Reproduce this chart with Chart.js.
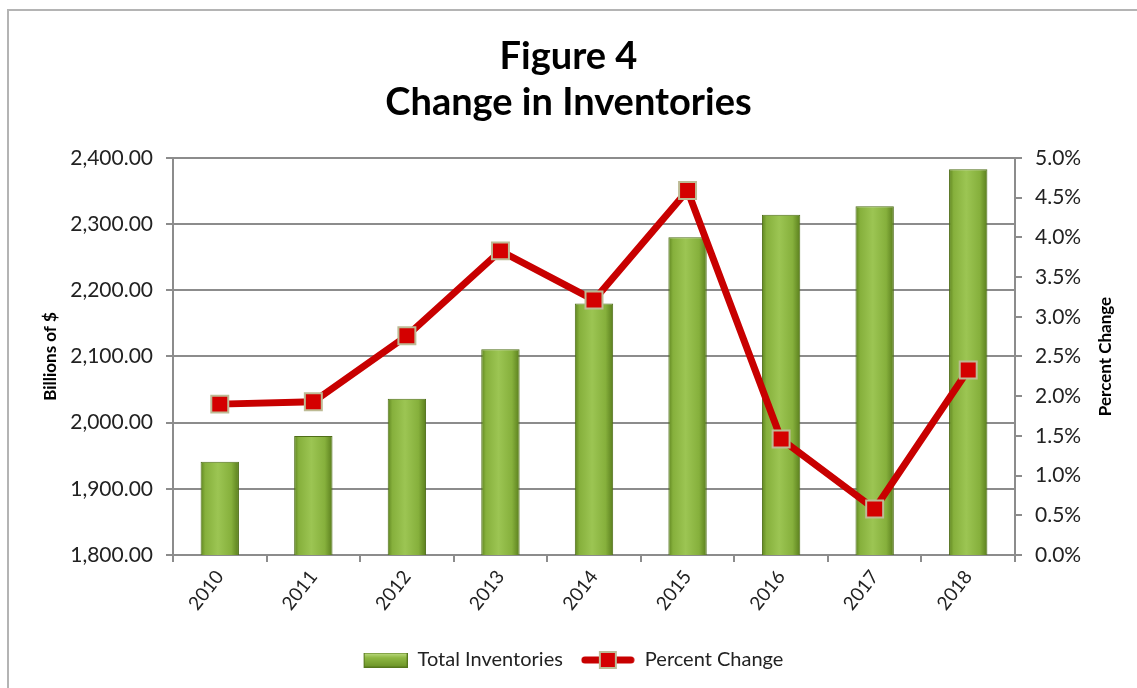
<!DOCTYPE html>
<html lang="en">
<head>
    <meta charset="UTF-8">
    <meta name="viewport" content="width=device-width, initial-scale=1.0">
    <title>Figure 4 - Change in Inventories</title>
    <style>
        html, body { margin: 0; padding: 0; background: #fff; overflow: hidden; }
        .main { width: 1137px; height: 688px; position: relative; }
    </style>
</head>
<body>
    <div class="main">
        <canvas id="myChart" width="1137" height="688"></canvas>
    </div>

    <script src="https://cdn.jsdelivr.net/npm/chart.js"></script>

<script>
    // data
    const years = ['2010', '2011', '2012', '2013', '2014', '2015', '2016', '2017', '2018'];
    const totalInventories = [1941, 1980, 2036, 2111, 2180, 2280, 2314, 2327, 2383];
    const percentChange = [1.90, 1.93, 2.76, 3.83, 3.21, 4.59, 1.46, 0.58, 2.33];
    const billionsTicks = [1800, 1900, 2000, 2100, 2200, 2300, 2400];
    const percentTicks = [0, 0.5, 1.0, 1.5, 2.0, 2.5, 3.0, 3.5, 4.0, 4.5, 5.0];

    const font = 'Lato, "Open Sans", sans-serif';
    Chart.defaults.font.family = font;
    Chart.defaults.color = '#333';

    const BAR_PCT = 0.41;

    // shaded green column, darker at the edges
    let barFill = (c) => {
        const chart = c.chart;
        const xs = chart.scales.x;
        if (!xs || c.dataIndex === undefined) return '#8cb43f';
        const cx = xs.getPixelForValue(c.dataIndex);
        const half = xs.width / years.length * BAR_PCT / 2;
        const g = chart.ctx.createLinearGradient(cx - half, 0, cx + half, 0);
        g.addColorStop(0, '#5f8520');
        g.addColorStop(0.12, '#86b03c');
        g.addColorStop(0.45, '#9cc553');
        g.addColorStop(0.8, '#86b03c');
        g.addColorStop(1, '#5a7e1d');
        return g;
    };

    // legend symbols (both 54px wide so they share one legend box width)
    let makeBarSwatch = () => {
        const cv = document.createElement('canvas');
        cv.width = 54; cv.height = 15;
        const x = cv.getContext('2d');
        const g = x.createLinearGradient(0, 0, 0, 15);
        g.addColorStop(0, '#c4e08a');
        g.addColorStop(0.35, '#8fb843');
        g.addColorStop(1, '#6a9127');
        x.fillStyle = g;
        x.fillRect(10, 0, 44, 15);
        x.strokeStyle = '#55771c';
        x.lineWidth = 1;
        x.strokeRect(10.5, 0.5, 43, 14);
        return cv;
    };
    let makeLineSwatch = () => {
        const cv = document.createElement('canvas');
        cv.width = 54; cv.height = 20;
        const x = cv.getContext('2d');
        x.strokeStyle = '#c80000';
        x.lineWidth = 7;
        x.lineCap = 'round';
        x.beginPath(); x.moveTo(4, 10); x.lineTo(50, 10); x.stroke();
        x.fillStyle = '#d40000';
        x.fillRect(19, 2, 16, 16);
        x.strokeStyle = '#bdbb95';
        x.lineWidth = 2;
        x.strokeRect(19, 2, 16, 16);
        return cv;
    };
    const barSwatch = makeBarSwatch();
    const lineSwatch = makeLineSwatch();

    // outer frame of the figure
    const frame = {
        id: 'frame',
        beforeDraw(chart) {
            const ctx = chart.ctx;
            ctx.save();
            ctx.strokeStyle = '#b4b4b4';
            ctx.lineWidth = 2;
            ctx.strokeRect(8, 10, 1200, 1000);
            ctx.restore();
        }
    };

    // right axis title reads bottom-to-top like the left one
    const sideTitle = {
        id: 'sideTitle',
        afterDraw(chart) {
            const ctx = chart.ctx;
            const a = chart.chartArea;
            ctx.save();
            ctx.translate(chart.scales.y1.right - 31, (a.top + a.bottom) / 2);
            ctx.rotate(-Math.PI / 2);
            ctx.font = 'bold 17px ' + font;
            ctx.fillStyle = '#000';
            ctx.textAlign = 'center';
            ctx.textBaseline = 'middle';
            ctx.fillText('Percent Change', 0, 0);
            ctx.restore();
        }
    };

    const ctx = document.getElementById('myChart');

    new Chart(ctx, {
        data: {
            labels: years,
            datasets: [{
                type: 'bar',
                label: 'Total Inventories',
                data: totalInventories,
                yAxisID: 'y',
                order: 1,
                backgroundColor: barFill,
                borderColor: '#4f6e18',
                borderWidth: 1,
                barPercentage: BAR_PCT,
                categoryPercentage: 1
            }, {
                type: 'line',
                label: 'Percent Change',
                data: percentChange,
                yAxisID: 'y1',
                order: 0,
                borderColor: '#c80000',
                borderWidth: 7,
                tension: 0,
                pointStyle: 'rect',
                pointRadius: 12,
                pointBackgroundColor: '#d40000',
                pointBorderColor: '#bdbb95',
                pointBorderWidth: 2
            }]
        },
        options: {
            responsive: false,
            animation: false,
            devicePixelRatio: 1,
            layout: { padding: { top: 0, left: 0, right: 0, bottom: 8 } },
            plugins: {
                tooltip: { enabled: false },
                title: {
                    display: true,
                    text: ['Figure 4', 'Change in Inventories'],
                    color: '#000',
                    font: { size: 38, weight: 'bold', lineHeight: 1.21 },
                    padding: { top: 34, bottom: 32 }
                },
                legend: {
                    position: 'bottom',
                    labels: {
                        usePointStyle: true,
                        pointStyleWidth: 54,
                        padding: 18,
                        color: '#222',
                        font: { size: 20 },
                        generateLabels: () => [
                            { text: 'Total Inventories', pointStyle: barSwatch, datasetIndex: 0, lineWidth: 0, fontColor: '#222' },
                            { text: 'Percent Change', pointStyle: lineSwatch, datasetIndex: 1, lineWidth: 0, fontColor: '#222' }
                        ]
                    }
                }
            },
            scales: {
                x: {
                    offset: true,
                    afterFit: (s) => { s.height = 77; },
                    grid: {
                        offset: true,
                        drawOnChartArea: false,
                        color: '#8c8c8c',
                        lineWidth: 2,
                        tickLength: 7
                    },
                    border: { color: '#8c8c8c', width: 2 },
                    ticks: {
                        minRotation: 52,
                        maxRotation: 52,
                        padding: 4,
                        color: '#222',
                        font: { size: 19 }
                    }
                },
                y: {
                    position: 'left',
                    min: 1800,
                    max: 2400,
                    afterFit: (s) => { s.width = 173; },
                    afterBuildTicks: (axis) => { axis.ticks = billionsTicks.map(v => ({ value: v })); },
                    grid: {
                        color: '#8c8c8c',
                        lineWidth: 2,
                        tickLength: 7
                    },
                    border: { color: '#8c8c8c', width: 2 },
                    ticks: {
                        padding: 13,
                        color: '#222',
                        font: { size: 21 },
                        callback: (v) => Number(v).toLocaleString('en-US', { minimumFractionDigits: 2, maximumFractionDigits: 2 })
                    },
                    title: {
                        display: true,
                        text: 'Billions of $',
                        color: '#000',
                        font: { size: 17, weight: 'bold' },
                        padding: { top: 40, bottom: 0 }
                    }
                },
                y1: {
                    position: 'right',
                    min: 0,
                    max: 5,
                    afterFit: (s) => { s.width = 122; },
                    afterBuildTicks: (axis) => { axis.ticks = percentTicks.map(v => ({ value: v })); },
                    grid: {
                        drawOnChartArea: false,
                        color: '#8c8c8c',
                        lineWidth: 2,
                        tickLength: 7
                    },
                    border: { color: '#8c8c8c', width: 2 },
                    ticks: {
                        padding: 13,
                        color: '#222',
                        font: { size: 21 },
                        callback: (v) => Number(v).toFixed(1) + '%'
                    }
                }
            }
        },
        plugins: [frame, sideTitle]
    });
</script>
</body>
</html>
